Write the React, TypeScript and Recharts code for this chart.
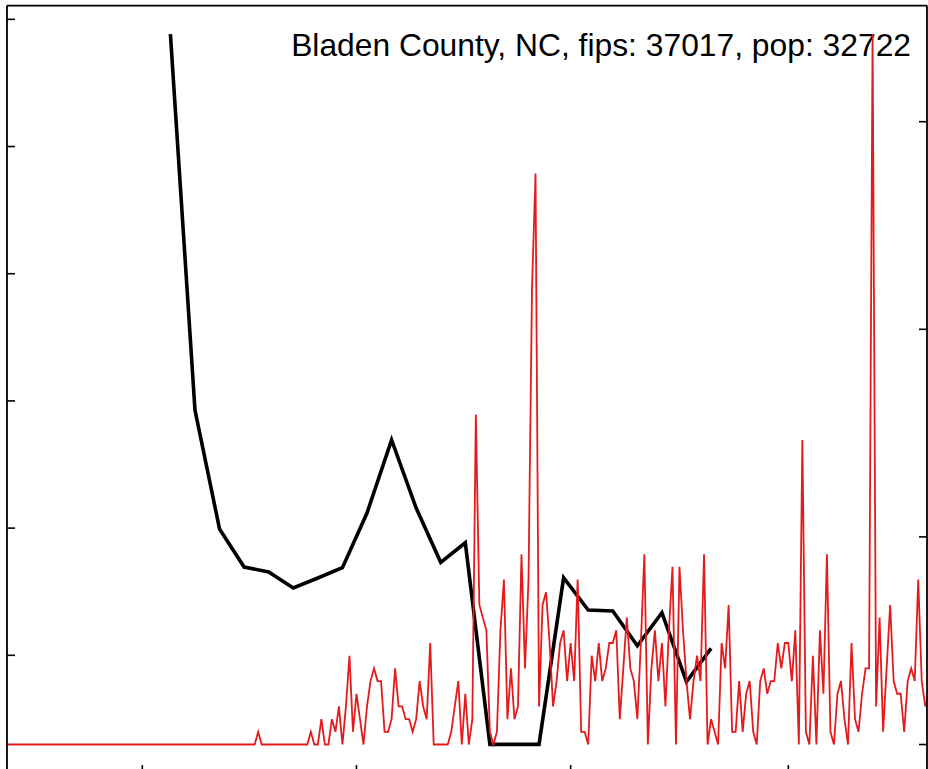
import React from 'react';
import { ComposedChart, Line, XAxis, YAxis, Customized } from 'recharts';

const title = 'Bladen County, NC, fips: 37017, pop: 32722';
const population = 32722;

// Day offsets are counted from Mar 1 (day 0); daily series starts Jan 22.
const firstDay = -39;
const dailyCases = [
  0, 0, 0, 0, 0, 0, 0, 0, 0, 0,
  0, 0, 0, 0, 0, 0, 0, 0, 0, 0,
  0, 0, 0, 0, 0, 0, 0, 0, 0, 0,
  0, 0, 0, 0, 0, 0, 0, 0, 0, 0,
  0, 0, 0, 0, 0, 0, 0, 0, 0, 0,
  0, 0, 0, 0, 0, 0, 0, 0, 0, 0,
  0, 0, 0, 0, 0, 0, 0, 0, 0, 0,
  0, 0, 1, 0, 0, 0, 0, 0, 0, 0,
  0, 0, 0, 0, 0, 0, 0, 1, 0, 0,
  2, 0, 0, 2, 1, 3, 0, 3, 7, 1,
  4, 2, 0, 3, 5, 6, 5, 5, 1, 1,
  2, 6, 3, 3, 2, 2, 1, 2, 5, 3,
  2, 8, 0, 0, 0, 0, 0, 1, 3, 5,
  0, 4, 0, 2, 26, 11, 10, 9, 1, 0,
  1, 9, 13, 2, 6, 2, 3, 15, 6, 13,
  36, 45, 3, 11, 12, 8, 3, 5, 8, 9,
  5, 8, 5, 13, 1, 1, 0, 7, 5, 8,
  5, 6, 8, 8, 9, 2, 6, 10, 6, 5,
  2, 8, 15, 0, 6, 9, 5, 8, 3, 9,
  14, 0, 14, 9, 5, 2, 5, 7, 5, 15,
  0, 2, 1, 0, 8, 6, 11, 1, 1, 5,
  1, 4, 5, 1, 0, 5, 6, 4, 5, 5,
  8, 6, 8, 8, 5, 9, 0, 24, 1, 0,
  7, 0, 9, 4, 15, 1, 0, 4, 5, 2,
  0, 8, 2, 1, 4, 6, 6, 56, 3, 10,
  1, 6, 11, 5, 4, 4, 1, 5, 6, 5,
  13, 5, 3, 4,
];

const weeklyDays = [8, 15, 22, 29, 36, 43, 50, 57, 64, 71, 78, 85, 92, 99, 106, 113, 120, 127, 134, 141, 148, 155, 162];
const weeklyValues = [
  5.884, 2.928, 1.993, 1.694, 1.655, 1.529, 1.608, 1.689, 2.119, 2.693, 2.158, 1.731,
  1.885, 0.3, 0.3, 0.3, 1.61, 1.356, 1.348, 1.075, 1.335, 0.792, 1.055,
];

const xTicks = [0, 61, 122, 184]; // Mar 1, May 1, Jul 1, Sep 1
const leftTicks = [1, 2, 3, 4, 5, 6];
const rightTicks = [0, 50, 100, 150];

const dailyData = dailyCases.map((c, i) => ({ d: firstDay + i, v: (c * 100000) / population }));
const weeklyData = weeklyDays.map((d, i) => ({ d, v: weeklyValues[i] }));

const X_DOMAIN: [number, number] = [-38.54, 223.5];
const LEFT_DOMAIN: [number, number] = [0.0747, 6.108];
const RIGHT_DOMAIN: [number, number] = [-6.86, 177.96];

const frame = { stroke: '#000', strokeWidth: 1.8 };
const tickStyle = { stroke: '#000', strokeWidth: 1.6 };

// tick labels are not shown in the reference; only the tick marks are
const NoLabel = () => <g />;

const TitleText = () => (
  <text
    x={911}
    y={55.5}
    textAnchor="end"
    fontFamily="'Liberation Sans', Arial, sans-serif"
    fontSize={31.8}
    fill="#000"
  >
    {title}
  </text>
);

export default function App() {
  return (
    <div style={{ position: 'absolute', left: 0, top: 0, width: 928, height: 769, overflow: 'hidden', background: '#fff' }}>
      <ComposedChart width={928} height={780} margin={{ top: 4.6, right: 1, bottom: 7, left: 7 }}>
        <XAxis
          xAxisId="bottom"
          dataKey="d"
          type="number"
          domain={X_DOMAIN}
          allowDataOverflow
          ticks={xTicks}
          interval={0}
          height={0.001}
          mirror
          tick={NoLabel}
          tickSize={8}
          axisLine={false}
          tickLine={tickStyle}
        />
        <XAxis
          xAxisId="top"
          orientation="top"
          dataKey="d"
          type="number"
          domain={X_DOMAIN}
          allowDataOverflow
          height={1}
          tick={false}
          tickLine={false}
          axisLine={frame}
        />
        <YAxis
          yAxisId="left"
          type="number"
          domain={LEFT_DOMAIN}
          allowDataOverflow
          ticks={leftTicks}
          interval={0}
          width={0.001}
          mirror
          tick={NoLabel}
          tickSize={8}
          axisLine={frame}
          tickLine={tickStyle}
        />
        <YAxis
          yAxisId="right"
          orientation="right"
          type="number"
          domain={RIGHT_DOMAIN}
          allowDataOverflow
          ticks={rightTicks}
          interval={0}
          width={0.001}
          mirror
          tick={NoLabel}
          tickSize={8}
          axisLine={frame}
          tickLine={tickStyle}
        />
        <Line
          data={weeklyData}
          xAxisId="bottom"
          yAxisId="left"
          dataKey="v"
          type="linear"
          stroke="#000"
          strokeWidth={3.6}
          dot={false}
          activeDot={false}
          strokeLinejoin="miter"
          isAnimationActive={false}
        />
        <Line
          data={dailyData}
          xAxisId="bottom"
          yAxisId="right"
          dataKey="v"
          type="linear"
          stroke="#e41a1c"
          strokeWidth={1.8}
          dot={false}
          activeDot={false}
          isAnimationActive={false}
        />
        <Customized component={TitleText} />
      </ComposedChart>
    </div>
  );
}
